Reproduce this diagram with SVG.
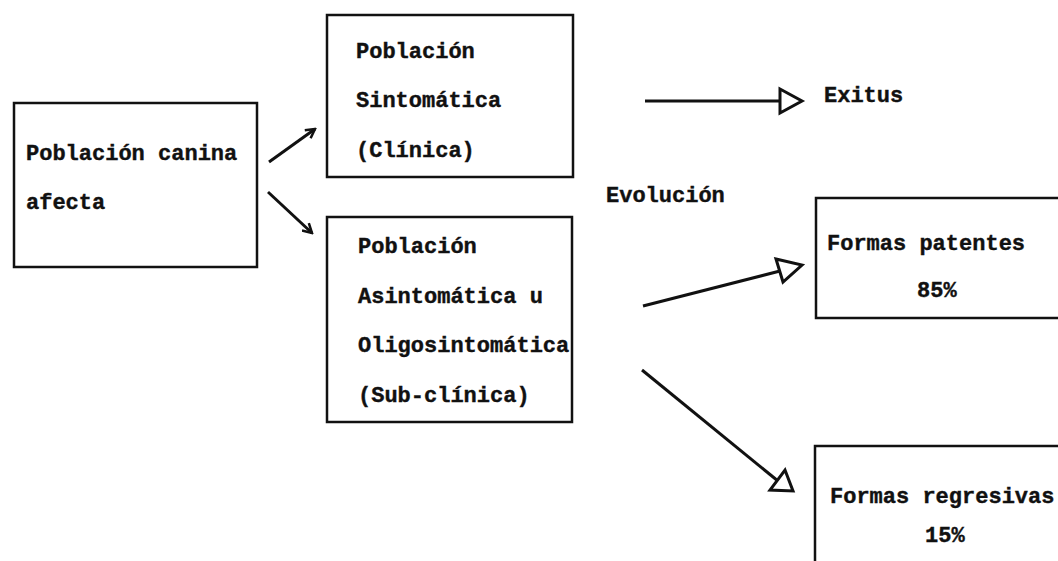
<svg xmlns="http://www.w3.org/2000/svg" width="1058" height="561" viewBox="0 0 1058 561">
<style>
.box{fill:none;stroke:#111;stroke-width:2.5}
.t{font-family:"Liberation Mono","Courier New",monospace;font-weight:bold;font-size:22px;fill:#111;stroke:#111;stroke-width:0.4}
.ln{stroke:#111;stroke-width:3;fill:none}
.head{fill:#fff;stroke:#111;stroke-width:3;stroke-linejoin:miter}
</style>
<defs>
<marker id="vee" viewBox="0 0 12 12" refX="10" refY="6" markerWidth="12" markerHeight="12" markerUnits="userSpaceOnUse" orient="auto">
<path d="M1,1 L10,6 L1,11" fill="none" stroke="#111" stroke-width="2.5"/>
</marker>
</defs>
<rect width="1058" height="561" fill="#fff"/>
<g id="n-canina">
<rect class="box" x="14" y="103" width="243" height="164"/>
<text class="t" x="26" y="160">Población canina</text>
<text class="t" x="26" y="209">afecta</text>
</g>
<g id="n-sintomatica">
<rect class="box" x="327" y="15" width="246" height="162"/>
<text class="t" x="356" y="58">Población</text>
<text class="t" x="356" y="107">Sintomática</text>
<text class="t" x="356" y="157">(Clínica)</text>
</g>
<g id="n-asintomatica">
<rect class="box" x="327" y="217" width="245" height="205"/>
<text class="t" x="358" y="253">Población</text>
<text class="t" x="358" y="303">Asintomática u</text>
<text class="t" x="358" y="352">Oligosintomática</text>
<text class="t" x="358" y="402">(Sub-clínica)</text>
</g>
<g id="n-exitus">
<text class="t" x="824" y="102">Exitus</text>
</g>
<g id="n-evolucion">
<text class="t" x="606" y="202">Evolución</text>
</g>
<g id="n-patentes">
<rect class="box" x="816" y="198" width="250" height="120"/>
<text class="t" x="827" y="250">Formas patentes</text>
<text class="t" x="917" y="297">85%</text>
</g>
<g id="n-regresivas">
<rect class="box" x="815" y="446" width="250" height="130"/>
<text class="t" x="830" y="503">Formas regresivas</text>
<text class="t" x="925" y="542">15%</text>
</g>
<g id="connectors">
<line class="ln" x1="269" y1="162" x2="315" y2="129" marker-end="url(#vee)"/>
<line class="ln" x1="268" y1="192" x2="312" y2="233" marker-end="url(#vee)"/>
<line class="ln" x1="645" y1="101" x2="781" y2="101"/>
<polygon class="head" points="780,89 802,101 780,113"/>
<line class="ln" x1="643" y1="306" x2="780" y2="271"/>
<polygon class="head" points="776,259 802,265 783,282"/>
<line class="ln" x1="642" y1="370" x2="778" y2="481"/>
<polygon class="head" points="785,470 793,491 770,490"/>
</g>
</svg>
